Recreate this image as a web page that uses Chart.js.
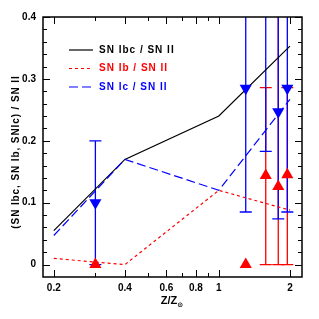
<!DOCTYPE html>
<html>
<head>
<meta charset="utf-8">
<script src="https://cdn.jsdelivr.net/npm/chart.js@4.4.1/dist/chart.umd.min.js"></script>
<style>
  html, body { margin: 0; padding: 0; background: #fff; }
  #wrap { width: 319px; height: 319px; }
</style>
</head>
<body>
<div id="wrap"><canvas id="snChart" width="319" height="319"></canvas></div>
<script>
// model curves
const zGrid = [0.2, 0.4, 1, 2];
const ibcRatio = [0.055, 0.17, 0.24, 0.353];
const ibRatio = [0.01, 0.0, 0.12, 0.088];
const icRatio = [0.047, 0.17, 0.12, 0.267];

// observed SN Ic / SN II (down triangles)
const icObsZ = [0.3, 1.3, 1.58, 1.785, 1.95];
const icObs = [0.1, 0.285, 0.45, 0.247, 0.285];
const icLow = [0, 0.085, 0.183, 0.074, 0.085];
const icHigh = [0.2, 0.6, 0.6, 0.6, 0.6];

// observed SN Ib / SN II (up triangles)
const ibObsZ = [0.3, 1.3, 1.58, 1.785, 1.95];
const ibObs = [0, 0, 0.144, 0.126, 0.145];
const ibLow = [null, null, 0, 0, 0];
const ibHigh = [null, null, 0.286, 0.6, 0.286];

// axis ticks
const xMajor = [0.2, 0.4, 0.6, 0.8, 1, 2];
const xMinor = [0.3, 0.5, 0.7, 0.9];
const yMajor = [0, 0.1, 0.2, 0.3, 0.4];

const legendItems = [
  { label: 'SN Ibc / SN II', color: '#000000', dash: [] },
  { label: 'SN Ib / SN II', color: '#ff0000', dash: [3, 3] },
  { label: 'SN Ic / SN II', color: '#0000ff', dash: [9, 4] }
];

const FONT = 'bold 10px "Liberation Sans", Arial, sans-serif';

function pts(xs, ys) {
  return xs.map((x, i) => ({ x: x, y: ys[i] }));
}

function drawBars(ctx, xs, lo, hi, color, sx, sy) {
  ctx.strokeStyle = color;
  ctx.lineWidth = 1.3;
  xs.forEach((x, i) => {
    if (lo[i] === null) return;
    const px = sx.getPixelForValue(x);
    const y1 = sy.getPixelForValue(lo[i]);
    const y2 = sy.getPixelForValue(hi[i]);
    ctx.beginPath();
    ctx.moveTo(px, y1); ctx.lineTo(px, y2);
    ctx.moveTo(px - 6, y1); ctx.lineTo(px + 6, y1);
    ctx.moveTo(px - 6, y2); ctx.lineTo(px + 6, y2);
    ctx.stroke();
  });
}

const errorBars = {
  id: 'errorBars',
  beforeDatasetsDraw(chart) {
    const { ctx, chartArea: a, scales: { x, y } } = chart;
    ctx.save();
    ctx.beginPath();
    ctx.rect(a.left, a.top, a.right - a.left, a.bottom - a.top);
    ctx.clip();
    drawBars(ctx, ibObsZ, ibLow, ibHigh, '#ff0000', x, y);
    drawBars(ctx, icObsZ, icLow, icHigh, '#0000ff', x, y);
    ctx.restore();
  }
};

const frame = {
  id: 'frame',
  afterDraw(chart) {
    const { ctx, chartArea: a, scales: { x, y } } = chart;
    ctx.save();
    ctx.strokeStyle = '#000';
    ctx.lineWidth = 1.5;
    ctx.strokeRect(a.left, a.top, a.right - a.left, a.bottom - a.top);
    ctx.lineWidth = 1;
    ctx.beginPath();
    // x ticks, bottom and top
    xMajor.concat(xMinor).forEach(v => {
      const len = xMajor.includes(v) ? 7 : 4;
      const px = Math.round(x.getPixelForValue(v)) + 0.5;
      ctx.moveTo(px, a.bottom); ctx.lineTo(px, a.bottom - len);
      ctx.moveTo(px, a.top); ctx.lineTo(px, a.top + len);
    });
    // y ticks, left and right
    for (let k = 0; k <= 20; k++) {
      const v = k * 0.02;
      const len = k % 5 === 0 ? 7 : 4;
      const py = Math.round(y.getPixelForValue(v)) + 0.5;
      ctx.moveTo(a.left, py); ctx.lineTo(a.left + len, py);
      ctx.moveTo(a.right, py); ctx.lineTo(a.right - len, py);
    }
    ctx.stroke();

    // legend
    ctx.font = FONT;
    ctx.letterSpacing = '1px';
    ctx.textBaseline = 'middle';
    legendItems.forEach((it, i) => {
      const ly = 50 + i * 18.5;
      ctx.strokeStyle = it.color;
      ctx.lineWidth = 1.2;
      ctx.setLineDash(it.dash);
      ctx.beginPath();
      ctx.moveTo(69, ly); ctx.lineTo(93, ly);
      ctx.stroke();
      ctx.setLineDash([]);
      ctx.fillStyle = it.color;
      ctx.textAlign = 'left';
      ctx.fillText(it.label, 99, ly);
    });
    ctx.letterSpacing = '0px';

    // axis titles
    ctx.fillStyle = '#000';
    const titleFont = 'bold 11px "Liberation Sans", Arial, sans-serif';
    const subFont = 'bold 7px "DejaVu Sans", sans-serif';
    ctx.font = titleFont;
    ctx.textAlign = 'left';
    ctx.textBaseline = 'alphabetic';
    const main = 'Z/Z';
    const w = ctx.measureText(main).width;
    ctx.font = subFont;
    const sw = ctx.measureText('⊙').width;
    const x0 = 172 - (w + sw) / 2;
    ctx.font = titleFont;
    ctx.fillText(main, x0, 304);
    ctx.font = subFont;
    ctx.fillText('⊙', x0 + w, 307);

    ctx.translate(16.5, 152);
    ctx.rotate(-Math.PI / 2);
    ctx.font = 'bold 10px "Liberation Sans", Arial, sans-serif';
    ctx.letterSpacing = '0.9px';
    ctx.textAlign = 'center';
    ctx.textBaseline = 'middle';
    ctx.fillText('(SN Ibc, SN Ib, SNIc) / SN II', 0, 0);
    ctx.restore();
  }
};

new Chart(document.getElementById('snChart'), {
  type: 'line',
  data: {
    datasets: [
      {
        label: 'SN Ibc / SN II',
        data: pts(zGrid, ibcRatio),
        borderColor: '#000000',
        borderWidth: 1.2,
        pointRadius: 0,
        order: 5
      },
      {
        label: 'SN Ib / SN II',
        data: pts(zGrid, ibRatio),
        borderColor: '#ff0000',
        borderWidth: 1.2,
        borderDash: [3, 3],
        pointRadius: 0,
        order: 4
      },
      {
        label: 'SN Ic / SN II',
        data: pts(zGrid, icRatio),
        borderColor: '#0000ff',
        borderWidth: 1.2,
        borderDash: [9, 4],
        pointRadius: 0,
        order: 3
      },
      {
        label: 'obs Ib',
        data: pts(ibObsZ, ibObs),
        showLine: false,
        pointStyle: 'triangle',
        pointRadius: 7,
        backgroundColor: '#ff0000',
        borderColor: '#ff0000',
        borderWidth: 0,
        order: 2
      },
      {
        label: 'obs Ic',
        data: pts(icObsZ, icObs),
        showLine: false,
        pointStyle: 'triangle',
        pointRotation: 180,
        pointRadius: 7,
        backgroundColor: '#0000ff',
        borderColor: '#0000ff',
        borderWidth: 0,
        order: 1
      }
    ]
  },
  options: {
    responsive: false,
    animation: false,
    layout: { padding: { left: 0, top: 17, right: 17, bottom: 0 } },
    plugins: { legend: { display: false }, tooltip: { enabled: false } },
    scales: {
      x: {
        type: 'logarithmic',
        min: 0.18,
        max: 2.25,
        grid: { display: false, drawTicks: false },
        border: { display: false },
        afterBuildTicks: s => { s.ticks = xMajor.map(v => ({ value: v })); },
        afterFit: s => { s.height = 42; },
        ticks: {
          autoSkip: false,
          maxRotation: 0,
          padding: 5,
          color: '#000',
          font: { family: '"Liberation Sans", Arial, sans-serif', size: 10, weight: 'bold' },
          callback: v => String(v)
        }
      },
      y: {
        min: -0.02,
        max: 0.4,
        grid: { display: false, drawTicks: false },
        border: { display: false },
        afterBuildTicks: s => { s.ticks = yMajor.map(v => ({ value: v })); },
        afterFit: s => { s.width = 43; },
        ticks: {
          padding: 7,
          color: '#000',
          font: { family: '"Liberation Sans", Arial, sans-serif', size: 10, weight: 'bold' },
          callback: v => (v === 0 ? '0' : v.toFixed(1))
        }
      }
    }
  },
  plugins: [errorBars, frame]
});
</script>
</body>
</html>
